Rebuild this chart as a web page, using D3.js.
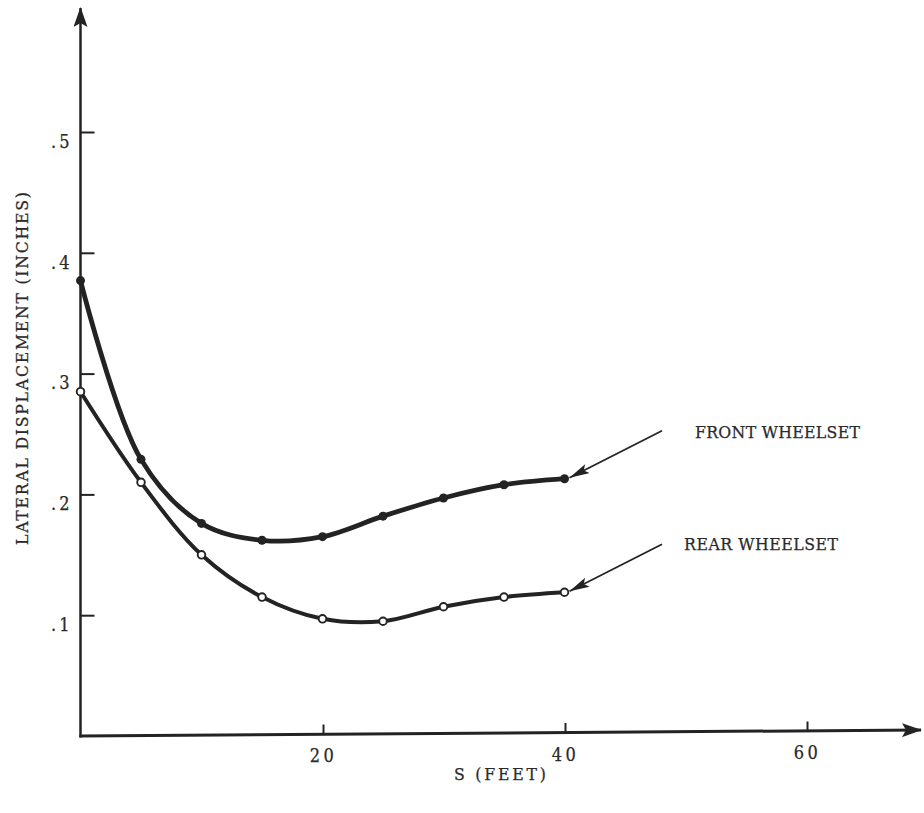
<!DOCTYPE html>
<html>
<head>
<meta charset="utf-8">
<script src="https://cdn.jsdelivr.net/npm/d3@7"></script>
<style>
  html, body { margin: 0; padding: 0; background: #fff; }
  svg { display: block; }
  text { font-family: "DejaVu Serif", "Liberation Serif", serif; font-stretch: condensed; fill: #2a2a2a; stroke: #2a2a2a; stroke-width: 0.25px; }
</style>
</head>
<body>
<svg id="chart" width="924" height="813"></svg>
<script>
// Distance along track (feet)
const distance = [0, 5, 10, 15, 20, 25, 30, 35, 40];
// Lateral displacement (inches) of each wheelset
const frontWheelset = [0.377, 0.229, 0.176, 0.162, 0.165, 0.182, 0.197, 0.208, 0.213];
const rearWheelset  = [0.285, 0.210, 0.150, 0.115, 0.097, 0.095, 0.107, 0.115, 0.119];
// Axis ticks
const xTicks = [20, 40, 60];
const yTicks = [0.1, 0.2, 0.3, 0.4, 0.5];
const yTickLabels = [".1", ".2", ".3", ".4", ".5"];

const ink = "#232323";
const svg = d3.select("#chart");

const x = d3.scaleLinear().domain([0, 40]).range([80.5, 564.5]);
const y = d3.scaleLinear().domain([0, 0.5]).range([736, 132]);

// arrowhead markers
const defs = svg.append("defs");
defs.append("marker")
  .attr("id", "axisHead").attr("viewBox", "0 0 20 14")
  .attr("refX", 19).attr("refY", 7)
  .attr("markerWidth", 20).attr("markerHeight", 14)
  .attr("markerUnits", "userSpaceOnUse").attr("orient", "auto")
  .append("path").attr("d", "M0,0 L20,7 L0,14 L4,7 Z").attr("fill", ink);
defs.append("marker")
  .attr("id", "pointer").attr("viewBox", "0 0 20 10")
  .attr("refX", 20).attr("refY", 5)
  .attr("markerWidth", 20).attr("markerHeight", 10)
  .attr("markerUnits", "userSpaceOnUse").attr("orient", "auto")
  .append("path").attr("d", "M0,0 L20,5 L0,10 L4,5 Z").attr("fill", ink);

// axis lines with arrows
svg.append("line")
  .attr("x1", x(0)).attr("y1", y(0) + 1.5)
  .attr("x2", x(0)).attr("y2", 8)
  .attr("stroke", ink).attr("stroke-width", 2.5)
  .attr("marker-end", "url(#axisHead)");
svg.append("line")
  .attr("x1", x(0) - 1.2).attr("y1", y(0))
  .attr("x2", 921).attr("y2", y(0) - 6)
  .attr("stroke", ink).attr("stroke-width", 3)
  .attr("marker-end", "url(#axisHead)");

// y ticks (pointing into the plot) and labels
const yAxis = d3.axisLeft(y)
  .tickValues(yTicks)
  .tickSize(-14)
  .tickPadding(8)
  .tickFormat((d, i) => yTickLabels[i]);
const gy = svg.append("g").attr("transform", `translate(${x(0)},0)`).call(yAxis);
gy.select(".domain").remove();
gy.selectAll(".tick line").attr("stroke", ink).attr("stroke-width", 2);
gy.selectAll(".tick text")
  .attr("dy", "0.85em")
  .attr("font-size", 18)
  .attr("font-family", null)
  .attr("letter-spacing", 3)
  .attr("fill", null);

// x ticks (pointing up) and labels
const xFull = x.copy().domain([0, 60]).range([x(0), x(60)]);
const xAxis = d3.axisBottom(xFull)
  .tickValues(xTicks)
  .tickSize(-10)
  .tickPadding(15)
  .tickFormat(d3.format("d"));
const gx = svg.append("g")
  .attr("transform", `translate(0,${y(0)})`).call(xAxis);
gx.select(".domain").remove();
gx.selectAll(".tick")
  .attr("transform", d => `translate(${xFull(d) + 1},${-d / 60 * 4.5})`);
gx.selectAll(".tick line").attr("stroke", ink).attr("stroke-width", 2);
gx.selectAll(".tick text")
  .attr("font-size", 18)
  .attr("font-family", null)
  .attr("letter-spacing", 3.5)
  .attr("fill", null);

// axis titles
svg.append("text")
  .attr("transform", `translate(28,${(545 + 192) / 2}) rotate(-90)`)
  .attr("text-anchor", "middle")
  .attr("font-size", 17.5)
  .attr("textLength", 353)
  .attr("lengthAdjust", "spacing")
  .text("LATERAL DISPLACEMENT (INCHES)");
svg.append("text")
  .attr("x", 500).attr("y", 780)
  .attr("text-anchor", "middle")
  .attr("font-size", 17.5)
  .attr("textLength", 92)
  .attr("lengthAdjust", "spacing")
  .text("S (FEET)");

// curves
const line = d3.line()
  .x((d, i) => x(distance[i]))
  .y(d => y(d))
  .curve(d3.curveCatmullRom.alpha(0.5));

svg.append("path").datum(frontWheelset)
  .attr("d", line).attr("fill", "none")
  .attr("stroke", ink).attr("stroke-width", 4.8)
  .attr("stroke-linecap", "round");
svg.append("path").datum(rearWheelset)
  .attr("d", line).attr("fill", "none")
  .attr("stroke", ink).attr("stroke-width", 4)
  .attr("stroke-linecap", "round");

svg.append("g").selectAll("circle").data(frontWheelset).join("circle")
  .attr("cx", (d, i) => x(distance[i])).attr("cy", d => y(d))
  .attr("r", 4.5).attr("fill", ink);
svg.append("g").selectAll("circle").data(rearWheelset).join("circle")
  .attr("cx", (d, i) => x(distance[i])).attr("cy", d => y(d))
  .attr("r", 3.8).attr("fill", "#fff")
  .attr("stroke", ink).attr("stroke-width", 1.9);

// callout pointers and labels
const lastIdx = distance.length - 1;
const callouts = [
  { name: "FRONT WHEELSET", v: frontWheelset[lastIdx], tx: 695, ty: 438, w: 165 },
  { name: "REAR WHEELSET", v: rearWheelset[lastIdx], tx: 684, ty: 550, w: 154 }
];
callouts.forEach(c => {
  const px = x(distance[lastIdx]), py = y(c.v);
  svg.append("line")
    .attr("x1", 662).attr("y1", py - 48)
    .attr("x2", px + 5).attr("y2", py - 1)
    .attr("stroke", ink).attr("stroke-width", 1.8)
    .attr("marker-end", "url(#pointer)");
  svg.append("text")
    .attr("x", c.tx).attr("y", c.ty)
    .attr("font-size", 17.5)
    .attr("textLength", c.w)
    .attr("lengthAdjust", "spacing")
    .text(c.name);
});
</script>
</body>
</html>
